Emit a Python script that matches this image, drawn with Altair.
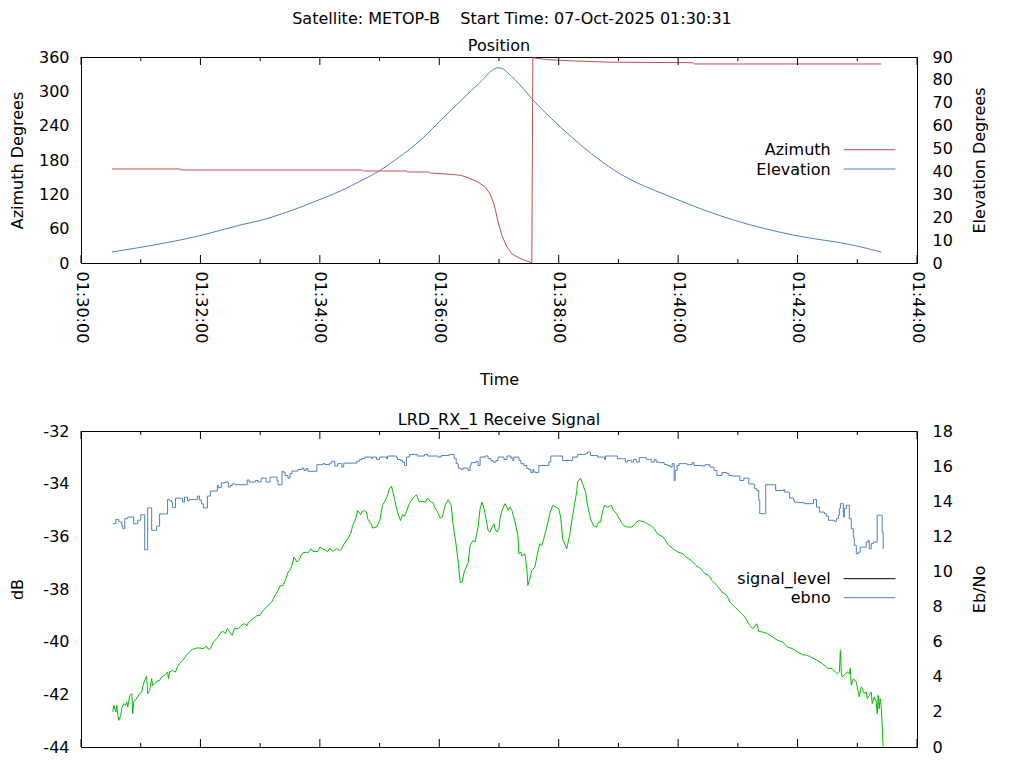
import altair as alt
import pandas as pd

# ---------------- data (seconds after 01:30:00) ----------------
az_t = [31, 100, 101, 283, 284, 327, 328, 350, 351, 372, 382, 389, 399, 406, 411, 415, 418, 420, 423,
        428, 433, 440, 448, 453, 454, 455, 470, 497, 530, 615, 616, 804]
azimuth = [164.3, 164.3, 162.5, 162.5, 160.8, 160.8, 159.0, 159.0, 157.3, 155.0, 153.0, 149.0, 141.5,
           132.8, 121.0, 103.0, 80.0, 66.0, 48.0, 28.0, 16.0, 9.0, 3.5, 0.5, 359.5, 358.3, 355.3, 353.0,
           351.0, 350.0, 347.8, 347.8]

el_t = [31, 121, 161, 182, 202, 242, 262, 282, 299, 315, 335, 344, 362, 382, 403, 413, 419, 423, 429,
        443, 453, 473, 493, 513, 536, 597, 657, 717, 777, 804]
elevation = [4.8, 12.1, 16.7, 18.8, 21.5, 28.1, 31.7, 36.1, 40.0, 44.8, 51.4, 54.8, 62.6, 71.1, 79.8,
             84.1, 85.3, 85.0, 83.0, 76.9, 71.8, 63.0, 55.0, 47.7, 40.5, 28.1, 18.6, 12.1, 7.7, 4.8]

sig_t = [32, 34, 35, 37, 38, 39, 41, 42, 43, 44, 47, 52, 53, 56, 57, 60, 63, 64, 66, 67, 70, 71, 74, 76, 77,
         79, 85, 87, 89, 91, 92, 93, 95, 101, 102, 104, 107, 109, 114, 117, 119, 121, 123, 125, 127, 129,
         130, 135, 137, 138, 141, 145, 148, 150, 152, 155, 166, 167, 169, 174, 175, 178, 181, 184, 186,
         188, 190, 195, 197, 198, 200, 202, 203, 205, 208, 210, 212, 215, 218, 222, 224, 226, 228, 235,
         237, 243, 245, 250, 252, 255, 257, 258, 260, 262, 264, 275, 277, 280, 282, 285, 290, 292, 293,
         297, 300, 305, 307, 308, 315, 317, 318, 321, 323, 325, 327, 330, 335, 338, 345, 348, 359, 362,
         370, 374, 375, 377, 379, 382, 384, 387, 389, 391, 392, 397, 399, 401, 406, 409, 412, 414, 417,
         419, 422, 425, 428, 432, 434, 435, 439, 440, 442, 445, 448, 450, 452, 454, 455, 457, 459, 460,
         467, 470, 472, 482, 484, 492, 494, 499, 505, 507, 509, 512, 516, 519, 526, 527, 537, 539, 545,
         547, 549, 552, 553, 555, 558, 561, 566, 568, 571, 573, 576, 578, 581, 586, 589, 592, 594, 596,
         597, 599, 601, 607, 609, 614, 616, 624, 627, 632, 636, 639, 644, 649, 651, 654, 661, 662, 666,
         669, 671, 676, 677, 679, 681, 682, 687, 688, 697, 698, 706, 707, 711, 712, 716, 717, 721, 727,
         734, 736, 737, 739, 742, 747, 749, 751, 757, 759, 761, 762, 763, 765, 766, 767, 769, 771, 772,
         774, 776, 777, 779, 781, 783, 787, 789, 791, 792, 794, 796, 799, 800, 804, 805, 806]
signal_level = [-35.52, -35.52, -35.36, -35.36, -35.43, -35.46, -35.59, -35.71, -35.71, -35.33, -35.27,
                -35.27, -35.52, -35.52, -35.39, -35.18, -35.18, -36.51, -36.51, -34.92, -34.92, -35.77,
                -35.77, -35.61, -35.61, -35.15, -35.15, -34.60, -34.65, -34.70, -34.91, -34.91, -34.55,
                -34.55, -34.70, -34.51, -34.65, -34.60, -34.60, -34.47, -34.62, -34.77, -34.92, -34.92,
                -34.47, -34.47, -34.28, -34.28, -34.07, -34.15, -33.97, -33.94, -34.13, -34.07, -34.01,
                -34.04, -34.04, -33.86, -33.94, -33.94, -33.88, -33.94, -33.79, -33.79, -33.94, -33.94,
                -33.75, -33.75, -33.88, -34.04, -34.04, -33.52, -33.56, -33.69, -33.79, -33.62, -33.52,
                -33.52, -33.46, -33.41, -33.50, -33.43, -33.53, -33.53, -33.28, -33.24, -33.27, -33.22,
                -33.15, -33.33, -33.33, -33.24, -33.24, -33.37, -33.22, -33.22, -33.15, -33.08, -33.05,
                -32.99, -32.99, -33.05, -32.99, -33.08, -32.99, -32.99, -33.05, -32.95, -32.95, -32.99,
                -33.08, -33.12, -33.18, -33.31, -32.99, -32.89, -32.89, -32.95, -32.89, -32.95, -32.99,
                -32.93, -32.89, -32.89, -33.05, -33.24, -33.41, -33.46, -33.41, -33.41, -33.50, -33.31,
                -33.20, -33.15, -33.31, -32.99, -32.95, -33.05, -33.12, -33.18, -33.12, -32.99, -32.99,
                -33.08, -32.95, -33.03, -33.12, -32.99, -32.99, -33.12, -33.24, -33.31, -33.43, -33.46,
                -33.58, -33.46, -33.56, -33.58, -33.58, -33.31, -33.31, -33.18, -32.95, -32.95, -33.12,
                -33.12, -32.99, -32.89, -32.89, -32.86, -32.80, -32.93, -32.93, -32.99, -33.08, -32.95,
                -32.95, -33.05, -33.05, -33.18, -33.12, -33.12, -33.18, -33.08, -33.18, -33.01, -33.01,
                -33.08, -33.08, -33.18, -33.08, -33.18, -33.20, -33.27, -33.31, -33.37, -33.24, -33.88,
                -33.50, -33.31, -33.24, -33.24, -33.28, -33.20, -33.31, -33.33, -33.28, -33.37, -33.50,
                -33.69, -33.58, -33.62, -33.69, -33.71, -33.71, -33.88, -33.79, -33.79, -34.01, -34.04,
                -34.19, -34.26, -34.63, -35.14, -35.14, -34.04, -34.04, -34.26, -34.22, -34.32, -34.34,
                -34.55, -34.63, -34.70, -34.72, -34.76, -34.76, -34.60, -34.60, -34.89, -35.08, -35.14,
                -35.23, -35.39, -35.43, -35.33, -35.20, -34.95, -34.76, -34.76, -35.27, -34.95, -34.82,
                -34.82, -35.33, -35.71, -36.03, -36.34, -36.66, -36.60, -36.41, -36.41, -36.22, -36.15,
                -36.47, -36.28, -36.22, -36.22, -35.20, -35.20, -35.84, -36.47]

eb_t = [32, 33, 35, 36, 37, 38, 40, 41, 43, 45, 46, 47, 49, 51, 52, 53, 55, 57, 59, 61, 62, 64, 66, 67, 69,
        71, 72, 74, 76, 79, 81, 84, 87, 88, 89, 92, 95, 97, 99, 102, 106, 109, 112, 116, 119, 123, 126,
        128, 130, 133, 137, 141, 143, 145, 147, 149, 152, 154, 158, 162, 164, 167, 168, 173, 177, 180,
        182, 185, 188, 192, 195, 198, 200, 203, 206, 208, 210, 212, 214, 217, 219, 221, 223, 227, 228,
        231, 233, 238, 240, 243, 248, 250, 253, 257, 260, 262, 264, 268, 271, 273, 276, 278, 281, 282,
        285, 287, 288, 292, 293, 297, 300, 303, 307, 310, 312, 315, 318, 321, 323, 325, 327, 330, 333,
        337, 340, 343, 346, 348, 351, 354, 355, 358, 361, 363, 366, 369, 372, 374, 377, 379, 381, 383,
        385, 389, 391, 394, 396, 399, 401, 403, 405, 407, 409, 411, 413, 415, 416, 418, 420, 421, 423,
        426, 428, 429, 431, 433, 436, 439, 440, 442, 443, 446, 448, 449, 451, 453, 456, 459, 461, 463,
        465, 468, 471, 474, 477, 480, 482, 484, 488, 491, 494, 498, 499, 502, 504, 507, 509, 512, 515,
        518, 520, 522, 524, 526, 529, 533, 535, 538, 541, 544, 546, 549, 554, 558, 561, 566, 569, 573,
        576, 579, 585, 590, 595, 600, 605, 608, 613, 618, 623, 627, 631, 634, 639, 644, 649, 652, 657,
        662, 667, 672, 675, 679, 681, 685, 690, 695, 700, 705, 710, 715, 720, 725, 730, 733, 740, 745,
        750, 755, 758, 760, 762, 763, 764, 765, 768, 770, 772, 773, 774, 776, 779, 780, 782, 784, 785,
        787, 789, 790, 792, 794, 795, 797, 799, 800, 801, 802, 803, 804, 805, 806]
ebno = [1.99, 2.37, 1.99, 2.37, 1.80, 1.52, 1.80, 2.22, 2.47, 2.37, 2.56, 2.28, 2.94, 3.04, 1.90, 2.56,
        2.71, 2.85, 3.04, 3.13, 3.42, 3.79, 4.04, 3.04, 3.22, 3.89, 3.51, 3.60, 3.74, 3.79, 3.99, 4.08,
        4.27, 3.89, 4.27, 4.36, 4.27, 4.59, 4.74, 4.93, 5.22, 5.41, 5.56, 5.64, 5.64, 5.60, 5.75, 5.56,
        5.60, 5.98, 6.21, 6.55, 6.58, 6.45, 6.74, 6.58, 6.36, 6.74, 6.74, 6.96, 7.02, 6.92, 7.08, 7.31,
        7.49, 7.49, 7.72, 7.88, 8.06, 8.29, 8.63, 8.92, 9.17, 9.20, 9.58, 9.97, 10.06, 10.34, 10.82,
        10.54, 10.63, 10.91, 11.06, 11.10, 11.06, 11.29, 11.14, 11.14, 11.39, 11.29, 11.14, 11.33, 11.14,
        11.29, 11.20, 11.29, 11.52, 11.86, 12.15, 12.62, 13.00, 13.47, 13.23, 13.38, 13.47, 13.38, 13.00,
        12.66, 12.47, 12.53, 12.85, 13.76, 14.18, 14.71, 14.86, 14.14, 13.38, 12.90, 13.23, 13.15, 13.42,
        13.86, 14.14, 14.37, 13.95, 13.99, 13.95, 14.18, 13.99, 13.91, 13.67, 13.42, 13.04, 13.10, 13.76,
        14.08, 13.76, 12.62, 11.48, 10.54, 9.36, 9.40, 9.97, 10.50, 11.48, 11.77, 11.67, 12.53, 13.57,
        13.95, 13.57, 13.00, 12.33, 12.24, 12.53, 12.72, 12.43, 12.24, 12.43, 13.00, 13.47, 13.86, 13.67,
        13.47, 13.67, 13.47, 12.85, 12.05, 11.01, 11.10, 10.88, 11.01, 10.15, 9.20, 9.58, 10.06, 10.25,
        11.10, 11.58, 11.48, 11.86, 12.53, 13.29, 13.76, 13.67, 13.57, 13.10, 11.86, 11.29, 12.05, 13.19,
        14.52, 15.09, 15.32, 14.99, 14.52, 13.76, 13.00, 12.59, 12.53, 12.81, 12.81, 13.38, 13.76, 13.67,
        13.76, 13.47, 13.29, 13.00, 12.72, 12.59, 12.53, 12.53, 12.81, 12.90, 12.81, 12.72, 12.59, 12.43,
        12.15, 11.96, 11.52, 11.29, 11.10, 11.01, 10.82, 10.63, 10.34, 10.15, 9.87, 9.77, 9.49, 9.20,
        8.83, 8.63, 8.26, 7.97, 7.69, 7.40, 6.92, 6.74, 7.02, 6.58, 6.55, 6.45, 6.26, 6.07, 5.98, 5.69,
        5.60, 5.41, 5.26, 5.22, 5.13, 4.93, 4.74, 4.50, 4.46, 4.27, 4.17, 4.27, 5.50, 4.17, 3.99, 4.17,
        4.27, 4.17, 4.50, 3.51, 3.89, 3.70, 3.42, 2.85, 3.42, 3.32, 3.04, 3.13, 2.75, 2.94, 3.13, 2.47,
        2.85, 2.56, 1.90, 2.94, 2.18, 2.75, 2.37, 1.23, 0.0]

major_ticks = list(range(0, 841, 120))
minor_ticks = list(range(60, 841, 120))

title_text = "Satellite: METOP-B\u00a0\u00a0\u00a0\u00a0Start Time: 07-Oct-2025 01:30:31"

# ---------------- styling ----------------
FONT = "DejaVu Sans"
FS = 16
W = 836
H1 = 206
H2 = 316
RED = "#C0504D"
BLUE = "#4F81BD"
GREEN = "#00C000"


def xenc(label_pad=8):
    return alt.X(
        "t:Q",
        scale=alt.Scale(domain=[0, 840], nice=False, zero=False),
        axis=alt.Axis(
            values=major_ticks,
            labelExpr="'01:' + (30 + datum.value / 60) + ':00'",
            labelAngle=90, labelAlign="left", labelBaseline="middle",
            labelPadding=label_pad, labelFlush=False, labelOverlap=False,
            ticks=False, tickSize=0, domain=False, grid=False,
            title="Time", titlePadding=29,
        ),
    )


def tick_layers(h, label_pad):
    maj = pd.DataFrame({"t": major_ticks})
    mnr = pd.DataFrame({"t": minor_ticks})
    out = []
    for df, ln in ((maj, 8), (mnr, 4)):
        out.append(alt.Chart(df).mark_rule(color="black", strokeWidth=1).encode(
            x=xenc(label_pad), y=alt.value(0), y2=alt.value(ln)))
        out.append(alt.Chart(df).mark_rule(color="black", strokeWidth=1).encode(
            x=xenc(label_pad), y=alt.value(h), y2=alt.value(h - ln)))
    return out


def legend_layers(names, colors, y_lines):
    out = []
    for name, col, yl in zip(names, colors, y_lines):
        d = pd.DataFrame({"label": [name]})
        out.append(alt.Chart(d).mark_text(align="right", baseline="alphabetic", font=FONT,
                                          fontSize=FS, color="black").encode(
            x=alt.value(749.7), y=alt.value(yl + 5.7), text="label:N"))
        out.append(alt.Chart(d).mark_rule(color=col, strokeWidth=1).encode(
            x=alt.value(762.7), x2=alt.value(814.4), y=alt.value(yl)))
    return out


def left_axis(title, vals):
    return alt.Axis(values=vals, orient="left", title=title, labelPadding=12,
                    labelExpr="'' + datum.value",
                    minExtent=43, maxExtent=43, titlePadding=13,
                    ticks=False, tickSize=0, domain=False, grid=False)


def right_axis(title, vals):
    return alt.Axis(values=vals, orient="right", title=title, labelPadding=15,
                    labelExpr="'' + datum.value",
                    titleAngle=270, titleBaseline="top",
                    minExtent=36, maxExtent=36, titlePadding=18,
                    ticks=False, tickSize=0, domain=False, grid=False)


# ---------------- top panel ----------------
az_df = pd.DataFrame({"t": az_t, "azimuth": azimuth})
el_df = pd.DataFrame({"t": el_t, "elevation": elevation})
TOP_PAD = 8

az_line = alt.Chart(az_df).mark_line(color=RED, strokeWidth=1, clip=True).encode(
    x=xenc(TOP_PAD),
    y=alt.Y("azimuth:Q", scale=alt.Scale(domain=[0, 360], nice=False, zero=False),
            axis=left_axis("Azimuth Degrees", list(range(0, 361, 60)))),
)
el_line = alt.Chart(el_df).mark_line(color=BLUE, strokeWidth=1, interpolate="monotone", clip=True).encode(
    x=xenc(TOP_PAD),
    y=alt.Y("elevation:Q", scale=alt.Scale(domain=[0, 90], nice=False, zero=False),
            axis=right_axis("Elevation Degrees", list(range(0, 91, 10)))),
)

top = alt.layer(
    az_line, el_line, *tick_layers(H1, TOP_PAD),
    *legend_layers(["Azimuth", "Elevation"], [RED, BLUE], [151 - 58.3, 170.3 - 58.3]),
).resolve_scale(y="independent").properties(
    width=W, height=H1,
    title=alt.TitleParams("Position", anchor="middle", frame="group", baseline="alphabetic", offset=-18),
)

# ---------------- bottom panel ----------------
sig_df = pd.DataFrame({"t": sig_t, "signal_level": signal_level})
eb_df = pd.DataFrame({"t": eb_t, "ebno": ebno})
BOT_PAD = 26  # the time labels of this panel fall below the visible window, as in the reference

sig_line = alt.Chart(sig_df).mark_line(color=BLUE, strokeWidth=1, interpolate="step-after", clip=True).encode(
    x=xenc(BOT_PAD),
    y=alt.Y("signal_level:Q", scale=alt.Scale(domain=[-44, -32], nice=False, zero=False),
            axis=left_axis("dB", list(range(-44, -31, 2)))),
)
eb_line = alt.Chart(eb_df).mark_line(color=GREEN, strokeWidth=1, clip=True).encode(
    x=xenc(BOT_PAD),
    y=alt.Y("ebno:Q", scale=alt.Scale(domain=[0, 18], nice=False, zero=False),
            axis=right_axis("Eb/No", list(range(0, 19, 2)))),
)

bottom = alt.layer(
    sig_line, eb_line, *tick_layers(H2, BOT_PAD),
    *legend_layers(["signal_level", "ebno"], ["black", BLUE], [580 - 432.3, 599 - 432.3]),
).resolve_scale(y="independent").properties(
    width=W, height=H2,
    title=alt.TitleParams("LRD_RX_1 Receive Signal", anchor="middle", frame="group",
                          baseline="alphabetic", offset=-18),
)

chart = alt.vconcat(top, bottom, spacing=22).properties(
    title=alt.TitleParams(title_text, anchor="middle", baseline="alphabetic", dx=14, offset=-2),
    padding={"left": 0, "top": 2, "right": 0, "bottom": 0},
).configure_view(
    stroke="black", strokeWidth=1
).configure_axis(
    labelFont=FONT, titleFont=FONT, labelFontSize=FS, titleFontSize=FS,
    labelColor="black", titleColor="black", titleFontWeight="normal",
).configure_title(
    font=FONT, fontSize=FS, fontWeight="normal", color="black",
)

chart.save("out.html", embed_options={"renderer": "svg", "actions": False})
